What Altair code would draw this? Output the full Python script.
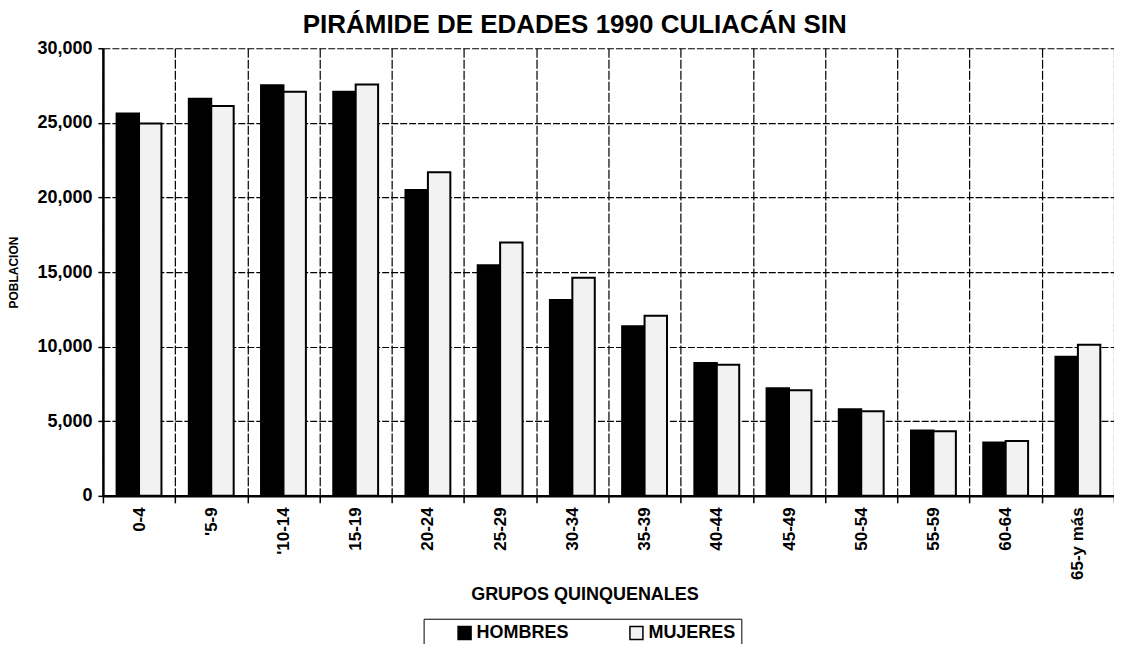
import altair as alt
import pandas as pd

groups = ["0-4", "'5-9", "'10-14", "15-19", "20-24", "25-29", "30-34",
          "35-39", "40-44", "45-49", "50-54", "55-59", "60-64", "65-y más"]
hombres = [25630, 26620, 27520, 27090, 20500, 15450, 13130,
           11360, 8910, 7220, 5800, 4380, 3580, 9330]
mujeres = [24950, 26130, 27090, 27570, 21690, 16980, 14620,
           12070, 8780, 7070, 5670, 4330, 3680, 10120]
series = ["HOMBRES", "MUJERES"]
y_ticks = [0, 5000, 10000, 15000, 20000, 25000, 30000]

rows = []
for g, h, m in zip(groups, hombres, mujeres):
    rows.append({"grupo": g, "sexo": series[0], "poblacion": h})
    rows.append({"grupo": g, "sexo": series[1], "poblacion": m})
df = pd.DataFrame(rows)

FONT = "Liberation Sans, Arial, sans-serif"

chart = alt.Chart(df).mark_bar(stroke="black", strokeWidth=2).encode(
    x=alt.X(
        "grupo:N", sort=groups,
        scale=alt.Scale(paddingInner=0, paddingOuter=0),
        axis=alt.Axis(
            title="GRUPOS QUINQUENALES", labelAngle=-90, tickBand="extent",
            grid=True, gridColor="black", gridDash=[9, 2], gridWidth=1.2,
            domainColor="black", domainWidth=2.5,
            ticks=True, tickColor="black", tickWidth=1.5, tickSize=7,
            labelPadding=4, labelFont=FONT, labelFontSize=17,
            labelFontWeight="bold", labelColor="black",
            titleFont=FONT, titleFontSize=18, titleFontWeight="bold",
            titleColor="black", titleX=482, titleY=99,
            titleAlign="center", titleBaseline="middle",
        ),
    ),
    xOffset=alt.XOffset("sexo:N", sort=series,
                        scale=alt.Scale(paddingInner=0, paddingOuter=0.61)),
    y=alt.Y(
        "poblacion:Q",
        scale=alt.Scale(domain=[0, 30000], nice=False),
        axis=alt.Axis(
            title="POBLACIÓN", values=y_ticks, format=",.0f",
            grid=True, gridColor="black", gridDash=[7, 2], gridWidth=1.2,
            domainColor="black", domainWidth=2.5,
            tickColor="black", tickWidth=1.5, tickSize=5, labelPadding=6,
            labelFont=FONT, labelFontSize=18, labelFontWeight="bold",
            labelColor="black",
            titleFont=FONT, titleFontSize=12, titleFontWeight="bold",
            titleColor="black", titleX=-89, titleY=224,
            titleAlign="center", titleBaseline="middle",
        ),
    ),
    fill=alt.Fill(
        "sexo:N",
        scale=alt.Scale(domain=series, range=["#000000", "#f2f2f2"]),
        legend=alt.Legend(
            title=None, orient="none", legendX=321, legendY=571,
            direction="horizontal", strokeColor="black", padding=5,
            symbolType="square", symbolSize=169, symbolStrokeColor="black",
            symbolStrokeWidth=1.5, symbolOffset=27, labelOffset=3,
            columnPadding=31, labelFont=FONT, labelFontSize=18,
            labelFontWeight="bold", labelColor="black",
        ),
    ),
).properties(
    width=1012,
    height=448,
    title=alt.TitleParams(
        "PIRÁMIDE DE EDADES 1990 CULIACÁN SIN", anchor="start", dx=295,
        font=FONT, fontSize=26, fontWeight="bold", color="black", offset=1,
    ),
    autosize=alt.AutoSizeParams(type="none"),
    padding={"left": 95, "top": 40, "right": 0, "bottom": 148},
    background="white",
).configure_view(stroke=None)

chart.save("out.html", embed_options={"renderer": "svg", "actions": False})
